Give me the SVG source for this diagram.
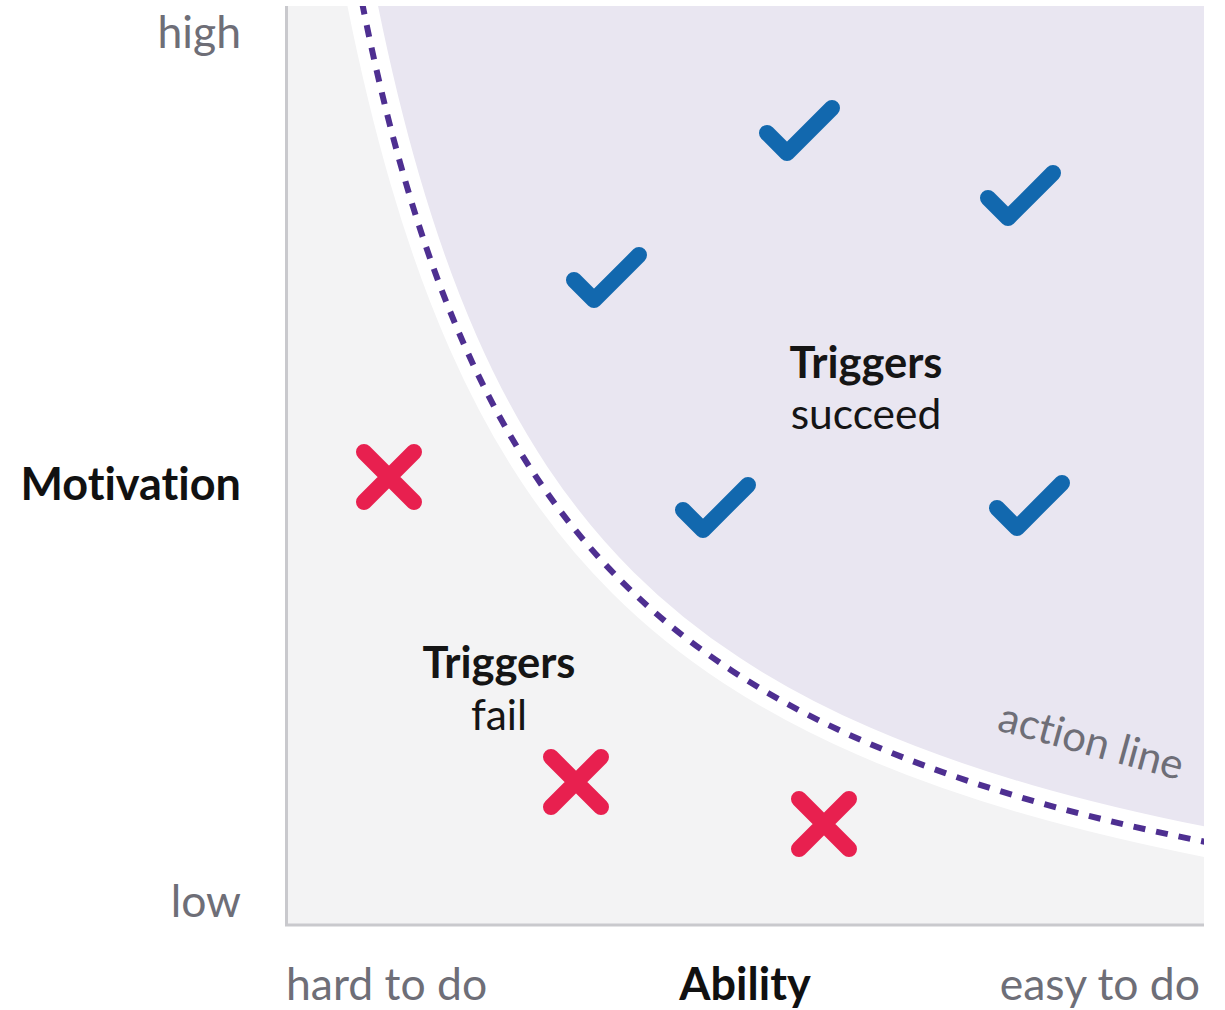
<svg xmlns="http://www.w3.org/2000/svg" width="1225" height="1010" viewBox="0 0 1225 1010">
  <style>
    .lbl { font-family: Lato, "Noto Sans", sans-serif; font-variant-ligatures: none; }
    .axis-end { font-size: 44.5px; fill: #6e6e77; }
    .axis-title { font-size: 45px; font-weight: 700; fill: #111111; }
    .zone-bold { font-size: 43.5px; font-weight: 700; fill: #151515; }
    .zone-reg { font-size: 42.5px; fill: #151515; }
    .check { fill: none; stroke: #1268ae; stroke-width: 16; stroke-linecap: round; stroke-linejoin: round; }
    .cross { fill: none; stroke: #e8204f; stroke-width: 16; stroke-linecap: round; }
  </style>
  <defs>
    <clipPath id="plotClip">
      <rect x="287" y="6" width="917" height="918"/>
    </clipPath>
    <path id="actionCurve" d="M357.6,-20.1 C373.4,61.9 389.2,125.8 405,180 C424.4,246.7 443.9,298.6 463.3,342.7 C487.2,397 511.1,439.3 535,475.2 C564.4,519.3 593.7,553.6 623.1,582.8 C659.2,618.7 695.4,646.7 731.5,670.4 C775.9,699.6 820.3,722.3 864.7,741.6 C919.3,765.3 973.9,783.9 1028.5,799.6 C1095.6,818.9 1162.8,833.9 1229.9,846.7"/>
    <path id="tick" d="M-20,-20 L0,0 L45,-45"/>
    <path id="ex" d="M-25,-25 L25,25 M25,-25 L-25,25"/>
  </defs>

  <!-- plot area -->
  <g id="plot" clip-path="url(#plotClip)">
    <rect x="287" y="6" width="917" height="918" fill="#f3f3f4"/>
    <path d="M357.6,-20.1 C373.4,61.9 389.2,125.8 405,180 C424.4,246.7 443.9,298.6 463.3,342.7 C487.2,397 511.1,439.3 535,475.2 C564.4,519.3 593.7,553.6 623.1,582.8 C659.2,618.7 695.4,646.7 731.5,670.4 C775.9,699.6 820.3,722.3 864.7,741.6 C919.3,765.3 973.9,783.9 1028.5,799.6 C1095.6,818.9 1162.8,833.9 1229.9,846.7 L1240,846.7 L1240,-30 Z" fill="#e9e6f1"/>
  </g>

  <!-- axes -->
  <g id="axes" fill="none" stroke="#c9c9cd" stroke-width="3">
    <line x1="286.5" y1="6" x2="286.5" y2="925.5"/>
    <line x1="285" y1="925" x2="1204" y2="925"/>
  </g>

  <!-- action line -->
  <g id="connectors" clip-path="url(#plotClip)">
    <use href="#actionCurve" fill="none" stroke="#ffffff" stroke-width="30"/>
    <use href="#actionCurve" fill="none" stroke="#4e2f91" stroke-width="6" stroke-dasharray="12 11"/>
  </g>

  <!-- outcome markers -->
  <g id="successes">
    <use href="#tick" class="check" x="787" y="153"/>
    <use href="#tick" class="check" x="1008" y="218"/>
    <use href="#tick" class="check" x="594" y="300"/>
    <use href="#tick" class="check" x="703" y="530"/>
    <use href="#tick" class="check" x="1017" y="528"/>
  </g>
  <g id="failures">
    <use href="#ex" class="cross" x="389" y="477"/>
    <use href="#ex" class="cross" x="576" y="782"/>
    <use href="#ex" class="cross" x="824" y="824"/>
  </g>

  <!-- axis labels -->
  <g id="y-axis-labels" class="lbl" text-anchor="end">
    <text class="axis-end" x="241" y="48">high</text>
    <text class="axis-title" x="241" y="500">Motivation</text>
    <text class="axis-end" x="241" y="917">low</text>
  </g>
  <g id="x-axis-labels" class="lbl">
    <text class="axis-end" x="286" y="1000">hard to do</text>
    <text class="axis-title" x="745" y="1000" text-anchor="middle" font-size="46">Ability</text>
    <text class="axis-end" x="1200" y="1000" text-anchor="end">easy to do</text>
  </g>

  <!-- zone captions -->
  <g id="zone-succeed" class="lbl" text-anchor="middle">
    <text class="zone-bold" x="866" y="378">Triggers</text>
    <text class="zone-reg" x="866" y="429">succeed</text>
  </g>
  <g id="zone-fail" class="lbl" text-anchor="middle">
    <text class="zone-bold" x="499" y="678">Triggers</text>
    <text class="zone-reg" x="499" y="730">fail</text>
  </g>
  <g id="action-line-label" class="lbl">
    <text x="996" y="730" font-size="42" fill="#6e6e77" transform="rotate(15.3 996 730)">action line</text>
  </g>
</svg>
